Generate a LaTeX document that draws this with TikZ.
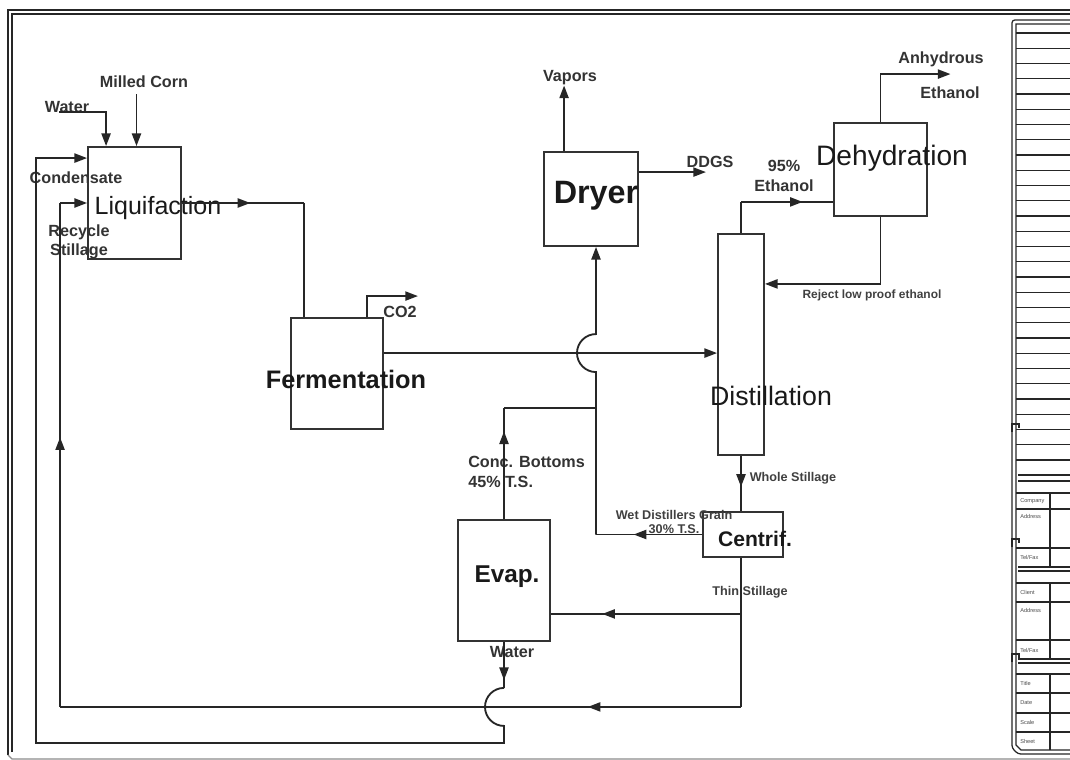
\documentclass[tikz,border=0pt]{standalone}
\usepackage{fontspec}
\setmainfont{Liberation Sans}
\usetikzlibrary{positioning,arrows.meta,calc,decorations.markings}

\tikzset{
  >={Triangle[length=9pt,width=6.5pt]},
  flow/.style={draw=black!85, line width=1.3pt},
  unitbox/.style={draw=black!80, line width=1.3pt, inner sep=0pt},
  unittxt/.style={inner sep=0pt, text=black!90, font=\fontsize{#1}{#1}\selectfont},
  unittxtb/.style={inner sep=0pt, text=black!90, font=\bfseries\fontsize{#1}{#1}\selectfont},
  flowlbl/.style={inner sep=0pt, text=black!80, align=center, font=\bfseries\fontsize{11.5}{13.8}\selectfont},
  minilbl/.style={inner sep=0pt, text=black!75, align=center, font=\bfseries\fontsize{9}{10}\selectfont},
  arrowat/.style={postaction={decorate}, decoration={markings, mark=at position #1 with {\arrow{>}}}},
  sheet/.style={draw=black!85, line width=0.9pt},
  rowtxt/.style={inner sep=0pt, anchor=west, text=black!70, font=\fontsize{4}{5}\selectfont},
}

\begin{document}
\begin{tikzpicture}[x=0.025cm, y=-0.025cm]
  \useasboundingbox (0,0) rectangle (1070,760);
  \fill[white] (0,0) rectangle (1070,760);
  \clip (0,0) rectangle (1070,760);

  % drawing frame
  \draw[sheet] (8,755) -- (8,10) -- (1075,10);
  \draw[sheet] (12,752) -- (12,14) -- (1075,14);
  \draw[black!45, line width=0.8pt] (8,755) -- (12,759) -- (1075,759);

  % title block
  \draw[sheet, rounded corners=2pt] (1075,20) -- (1012,20) -- (1012,748) -- (1018,754) -- (1075,754);
  \draw[sheet] (1075,24) -- (1016,24) -- (1016,745) -- (1021,750) -- (1075,750);
  \foreach \k in {0,...,28}
    \draw[sheet] (1016,{33+15.25*\k}) -- (1075,{33+15.25*\k});
  \foreach \yy in {475,481,567,571,659,663}
    \draw[sheet] (1018,\yy) -- (1075,\yy);
  \foreach \yy in {493,509,548,583,602,640,674,693,713,732}
    \draw[sheet] (1016,\yy) -- (1075,\yy);
  \draw[sheet] (1050,493) -- (1050,567);
  \draw[sheet] (1050,583) -- (1050,659);
  \draw[sheet] (1050,674) -- (1050,750);
  \foreach \yy in {424,539,654}
    \draw[sheet] (1012,{\yy+8}) -- (1012,\yy) -- (1019,\yy) -- (1019,{\yy+4});
  \foreach \yy/\txt in {501/Company, 516/Address, 557/{Tel/Fax}, 592/Client, 610/Address, 650/{Tel/Fax}, 683/Title, 703/Date, 722/Scale, 741/Sheet}
    \node[rowtxt] (row\yy) at (1020,\yy) {\txt};

  % process units
  \node[unitbox, minimum width=2.325cm, minimum height=2.8cm] (liq) at (134.5,203) {};
  \node[unitbox, minimum width=2.3cm, minimum height=2.775cm] (ferm) at (337,373.5) {};
  \node[unitbox, minimum width=2.35cm, minimum height=2.35cm] (dryer) at (591,199) {};
  \node[unitbox, minimum width=2.325cm, minimum height=2.325cm] (dehy) at (880.5,169.5) {};
  \node[unitbox, minimum width=1.15cm, minimum height=5.525cm] (dist) at (741,344.5) {};
  \node[unitbox, minimum width=2cm, minimum height=1.125cm] (cent) at (743,534.5) {};
  \node[unitbox, minimum width=2.3cm, minimum height=3.025cm] (evap) at (504,580.5) {};

  \node[unittxt=17.8] (liqtxt) at (158,208) {Liquifaction};
  \node[unittxtb=18] (fermtxt) at (346,379) {Fermentation};
  \node[unittxtb=23] (drytxt) at (596,196) {Dryer};
  \node[unittxt=20] (dehytxt) at (892,158) {Dehydration};
  \node[unittxt=19] (disttxt) at (771,396) {Distillation};
  \node[unittxtb=15] (centtxt) at (755,539) {Centrif.};
  \node[unittxtb=17.3] (evaptxt) at (507,577) {Evap.};

  % stream labels
  \node[flowlbl] (cornlbl) at (144,82) {Milled Corn};
  \node[flowlbl] (watlbl) at (67,107) {Water};
  \node[flowlbl] (condlbl) at (76,178) {Condensate};
  \node[flowlbl] (reclbl) at (79,242) {Recycle\\Stillage};
  \node[flowlbl] (co2lbl) at (400,312) {CO2};
  \node[flowlbl] (vaplbl) at (570,78) {Vapors};
  \node[flowlbl] (ddgslbl) at (710,162) {DDGS};
  \node[flowlbl] (etlbl) at (784,176) {95\%\\Ethanol};
  \node[flowlbl] (anlbl) at (941,59) {Anhydrous};
  \node[flowlbl] (anlbl2) at (950,93) {Ethanol};
  \node[minilbl, font=\bfseries\fontsize{8.5}{10}\selectfont] (rejlbl) at (872,295) {Reject low proof ethanol};
  \node[minilbl] (wslbl) at (793,478) {Whole Stillage};
  \node[flowlbl, align=left, anchor=west] (cblbl) at (468,472) {Conc. Bottoms\\45\% T.S.};
  \node[minilbl] (wglbl) at (674,522) {Wet Distillers Grain\\30\% T.S.};
  \node[minilbl] (tslbl) at (750,592) {Thin Stillage};
  \node[flowlbl] (ewlbl) at (512,652) {Water};

  % feeds into liquifaction
  \coordinate (watin) at ($(liq.north west)+(19,0)$);
  \coordinate (watsrc) at ($(watin)+(-47,-34)$);
  \draw[flow,->] (watsrc) -| (watin);
  \coordinate (cornsrc) at ($(liq.north)+(2,-52)$);
  \draw[flow,->] (cornsrc) -- (cornsrc |- liq.north);

  % condensate return from evaporator
  \coordinate (condin) at ($(liq.north west)+(0,12)$);
  \coordinate (tsbot) at ($(cent.south)+(-2,149)$);
  \coordinate (h2c) at (evap.south |- tsbot);
  \draw[flow, arrowat=0.83] (evap.south) -- ($(h2c)+(0,-19)$);
  \draw[flow,->] ($(h2c)+(0,-19)$) arc[start angle=90, end angle=270, radius=0.475cm]
    -- ($(h2c)+(0,36)$) -| ($(condin)+(-51,0)$) -- (condin);

  % recycle stillage
  \coordinate (rsul) at ($(liq.west)+(-27,0)$);
  \draw[flow] (cent.south -| tsbot) -- (tsbot);
  \draw[flow, arrowat=0.225] (tsbot) -- (tsbot -| rsul);
  \draw[flow, arrowat=0.535] (tsbot -| rsul) -- (rsul);
  \draw[flow,->] (rsul) -- (liq.west);

  % thin stillage to evaporator
  \coordinate (tsin) at ($(evap.south east)+(0,-28)$);
  \draw[flow, arrowat=0.73] (tsin -| tsbot) -- (tsin);

  % liquifaction -> fermentation
  \coordinate (fin) at ($(ferm.north west)+(14,0)$);
  \draw[flow, arrowat=0.56] (liq.east) -- (liq.east -| fin);
  \draw[flow] (liq.east -| fin) -- (fin);

  % CO2 vent
  \coordinate (co2src) at ($(ferm.north east)+(-17,0)$);
  \coordinate (co2end) at ($(co2src)+(51,-21)$);
  \draw[flow,->] (co2src) |- (co2end);

  % beer to distillation
  \coordinate (fout) at ($(ferm.north east)+(0,36)$);
  \draw[flow,->] (fout) -- (fout -| dist.west);

  % wet grain + conc. bottoms to dryer
  \coordinate (dryin) at ($(dryer.south)+(5,0)$);
  \coordinate (h1c) at (dryin |- fout);
  \draw[flow, arrowat=0.645] (cent.west) -- (cent.west -| dryin);
  \draw[flow,->] (cent.west -| dryin) -- ($(h1c)+(0,19)$)
    arc[start angle=270, end angle=90, radius=0.475cm] -- (dryin);
  \coordinate (cbtop) at ($(evap.north)+(0,-111)$);
  \draw[flow, arrowat=0.79] (evap.north) -- (cbtop);
  \draw[flow] (cbtop) -- (cbtop -| dryin);

  % dryer products
  \coordinate (vapsrc) at ($(dryer.north west)+(21,0)$);
  \draw[flow,->] (vapsrc) -- (vapsrc |- vaplbl.south);
  \coordinate (ddgssrc) at ($(dryer.north east)+(0,21)$);
  \coordinate (ddgsend) at ($(ddgssrc)+(67,0)$);
  \draw[flow,->] (ddgssrc) -- (ddgsend);

  % distillation overhead and dehydration
  \coordinate (ethin) at ($(dehy.south west)+(0,-15)$);
  \draw[flow] (dist.north) -- (dist.north |- ethin);
  \draw[flow, arrowat=0.67] (dist.north |- ethin) -- (ethin);
  \coordinate (anend) at ($(dehy.north)+(70,-48)$);
  \draw[flow,->] (dehy.north) |- (anend);
  \coordinate (rejc) at ($(dehy.south)+(0,67)$);
  \draw[flow,->] (dehy.south) -- (rejc) -- (rejc -| dist.east);

  % whole stillage
  \draw[flow, arrowat=0.56] (dist.south) -- (dist.south |- cent.north);
\end{tikzpicture}
\end{document}
